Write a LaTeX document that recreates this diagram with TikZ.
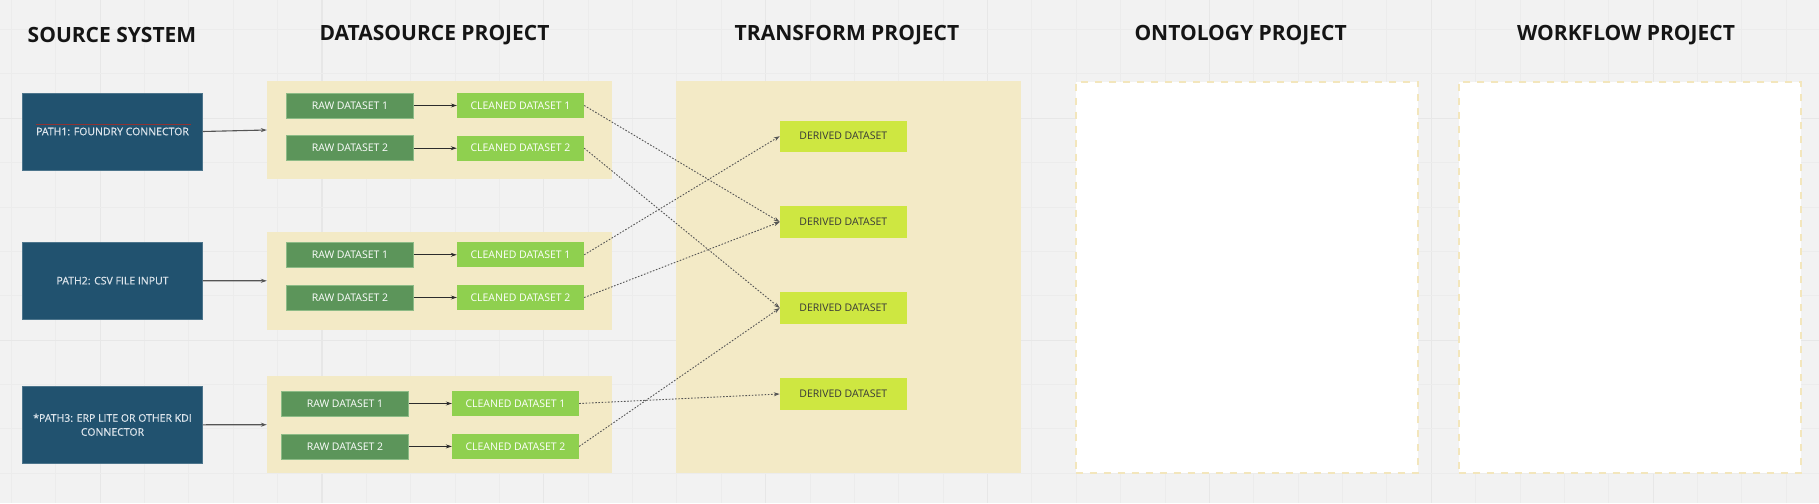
\documentclass[tikz,border=0pt]{standalone}
\usepackage{fontspec}
\setmainfont{Open Sans}
\newfontfamily\srcfont[FakeBold=0.5]{Open Sans}
\usetikzlibrary{arrows.meta}
\definecolor{bgc}{HTML}{F2F2F2}
\definecolor{gridminor}{HTML}{ECECEC}
\definecolor{gridmajor}{HTML}{E7E7E7}
\definecolor{srcblue}{HTML}{21526F}
\definecolor{srctext}{HTML}{DDE5EC}
\definecolor{panelc}{HTML}{F3EAC6}
\definecolor{rawc}{HTML}{5C955A}
\definecolor{rawborder}{HTML}{8DBB86}
\definecolor{cleanc}{HTML}{8FD04F}
\definecolor{derivc}{HTML}{CEE741}
\definecolor{dashc}{HTML}{F3E6BC}
\definecolor{titlec}{HTML}{151515}
\definecolor{linec}{HTML}{555555}
\tikzset{
  srcbox/.style={rectangle, fill=srcblue, draw=srcblue!80!white, line width=0.5pt, minimum width=180pt, minimum height=77pt, inner sep=0pt, text=srctext, font=\srcfont\fontsize{10.5}{14}\selectfont, align=center},
  panelbox/.style={rectangle, fill=panelc, draw=none, minimum width=344.7pt, inner sep=0pt},
  rawbox/.style={rectangle, fill=rawc, draw=rawborder, line width=0.6pt, minimum width=127.3pt, minimum height=25pt, inner sep=0pt, text=white, font=\fontsize{10.5}{12}\selectfont},
  cleanbox/.style={rectangle, fill=cleanc, draw=none, minimum width=127pt, minimum height=25pt, inner sep=0pt, text=white, font=\fontsize{10.5}{12}\selectfont},
  derivbox/.style={rectangle, fill=derivc, draw=none, minimum width=126.7pt, minimum height=31.3pt, inner sep=0pt, text=titlec!85!white, font=\fontsize{10.5}{12}\selectfont},
  emptypanel/.style={rectangle, fill=white, draw=dashc, line width=2pt, dash pattern=on 7pt off 7pt, minimum width=342.5pt, minimum height=390.8pt, inner sep=0pt},
  titletext/.style={font=\bfseries\fontsize{21}{24}\selectfont, text=titlec, inner sep=0pt},
  solidarrow/.style={draw=titlec!90!white, line width=0.8pt, -{Stealth[length=6pt,width=4pt]}},
  srcarrow/.style={draw=linec, line width=1.1pt, -{Stealth[length=6pt,width=4pt]}},
  dotarrow/.style={draw=linec, line width=0.9pt, dash pattern=on 1.6pt off 1.6pt, -{Stealth[length=6pt,width=4pt]}}
}
\begin{document}
\begin{tikzpicture}[x=1pt,y=-1pt]
\useasboundingbox (0,0) rectangle (1819,503);
\fill[bgc] (0,0) rectangle (1819,503);
% grid
\foreach \k in {0,...,41} {
  \pgfmathsetmacro{\gx}{11.4+44.37*\k}
  \pgfmathtruncatemacro{\gm}{mod(\k,5)}
  \ifnum\gm=2
    \draw[gridmajor, line width=1.2pt] (\gx,0) -- (\gx,503);
  \else
    \draw[gridminor, line width=1pt] (\gx,0) -- (\gx,503);
  \fi
}
\foreach \k in {0,...,11} {
  \pgfmathsetmacro{\gy}{29.6+44.37*\k}
  \pgfmathtruncatemacro{\gm}{mod(\k,5)}
  \ifnum\gm=2
    \draw[gridmajor, line width=1.2pt] (0,\gy) -- (1819,\gy);
  \else
    \draw[gridminor, line width=1pt] (0,\gy) -- (1819,\gy);
  \fi
}
% titles
\node[titletext] (t1) at (112,35) {SOURCE SYSTEM};
\node[titletext] (t2) at (434.5,35) {DATASOURCE PROJECT};
\node[titletext] (t3) at (847,35) {TRANSFORM PROJECT};
\node[titletext] (t4) at (1240.6,35) {ONTOLOGY PROJECT};
\node[titletext] (t5) at (1626,35) {WORKFLOW PROJECT};
% source boxes
\node[srcbox] (s1) at (112.5,131.5) {PATH1: FOUNDRY CONNECTOR};
\draw[red!45!black!80!white, line width=0.5pt] (35.5,124) -- (191,124);
\node[srcbox] (s2) at (112.5,280.7) {PATH2: CSV FILE INPUT};
\node[srcbox] (s3) at (112.5,424.8) {*PATH3: ERP LITE OR OTHER KDI\\CONNECTOR};
% datasource panels
\node[panelbox, minimum height=98pt] (p1) at (439.4,130) {};
\node[panelbox, minimum height=97.7pt] (p2) at (439.4,280.8) {};
\node[panelbox, minimum height=97.3pt] (p3) at (439.4,424.7) {};
% transform panel
\node[panelbox, minimum height=392.3pt] (tp) at (848.3,277.2) {};
% empty panels
\node[emptypanel] (op) at (1247.2,277.1) {};
\node[emptypanel] (wp) at (1629.9,277.1) {};
% raw / cleaned
\node[rawbox] (r11) at (350,105.5) {RAW DATASET 1};
\node[rawbox] (r12) at (350,148.2) {RAW DATASET 2};
\node[cleanbox] (c11) at (520.5,105.5) {CLEANED DATASET 1};
\node[cleanbox] (c12) at (520.5,148.2) {CLEANED DATASET 2};
\node[rawbox] (r21) at (350,254.8) {RAW DATASET 1};
\node[rawbox] (r22) at (350,297.5) {RAW DATASET 2};
\node[cleanbox] (c21) at (520.5,254.8) {CLEANED DATASET 1};
\node[cleanbox] (c22) at (520.5,297.5) {CLEANED DATASET 2};
\node[rawbox] (r31) at (345,403.5) {RAW DATASET 1};
\node[rawbox] (r32) at (345,446.4) {RAW DATASET 2};
\node[cleanbox] (c31) at (515.5,403.5) {CLEANED DATASET 1};
\node[cleanbox] (c32) at (515.5,446.4) {CLEANED DATASET 2};
% derived
\node[derivbox] (d1) at (843.3,136.2) {DERIVED DATASET};
\node[derivbox] (d2) at (843.3,222) {DERIVED DATASET};
\node[derivbox] (d3) at (843.3,308) {DERIVED DATASET};
\node[derivbox] (d4) at (843.3,394) {DERIVED DATASET};
% source arrows
\draw[srcarrow] (s1.east) -- (p1.west);
\draw[srcarrow] (s2.east) -- (p2.west);
\draw[srcarrow] (s3.east) -- (p3.west);
% raw -> cleaned
\foreach \a/\b in {r11/c11, r12/c12, r21/c21, r22/c22, r31/c31, r32/c32}
  \draw[solidarrow] (\a.east) -- (\b.west);
% cleaned -> derived
\draw[dotarrow] (c11.east) -- (d2.west);
\draw[dotarrow] (c12.east) -- (d3.west);
\draw[dotarrow] (c21.east) -- (d1.west);
\draw[dotarrow] (c22.east) -- (d2.west);
\draw[dotarrow] (c31.east) -- (d4.west);
\draw[dotarrow] (c32.east) -- (d3.west);
\end{tikzpicture}
\end{document}
